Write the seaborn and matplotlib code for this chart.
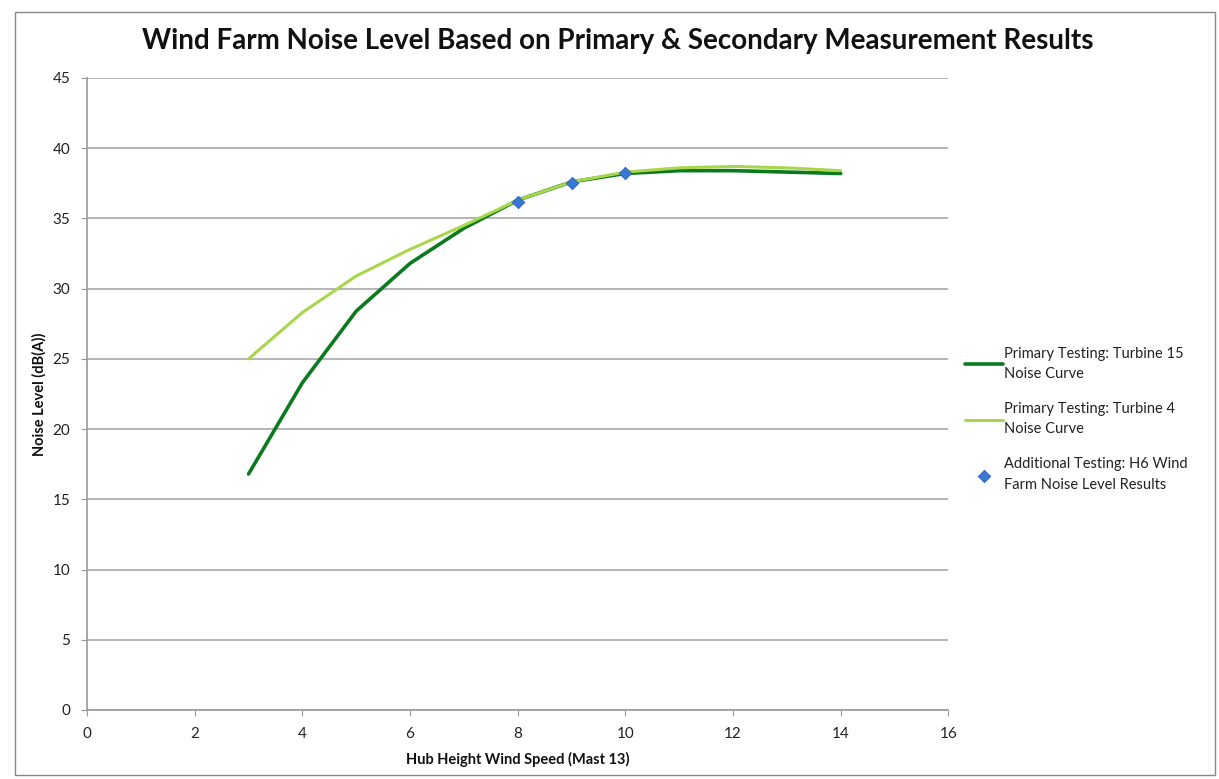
import matplotlib
matplotlib.use("Agg")
import matplotlib.pyplot as plt
import seaborn as sns
import pandas as pd
from matplotlib.patches import Rectangle

# Data
wind_speed = [3, 4, 5, 6, 7, 8, 9, 10, 11, 12, 13, 14]
turbine15 = [16.8, 23.3, 28.4, 31.8, 34.3, 36.3, 37.6, 38.2, 38.4, 38.4, 38.3, 38.2]
turbine4 = [25.0, 28.3, 30.9, 32.8, 34.5, 36.3, 37.6, 38.3, 38.6, 38.7, 38.6, 38.4]
h6_speed = [8, 9, 10]
h6_level = [36.2, 37.5, 38.2]

x_ticks = [0, 2, 4, 6, 8, 10, 12, 14, 16]
y_ticks = [0, 5, 10, 15, 20, 25, 30, 35, 40, 45]

title = "Wind Farm Noise Level Based on Primary & Secondary Measurement Results"
xlabel = "Hub Height Wind Speed (Mast 13)"
ylabel = "Noise Level (dB(A))"
labels = ["Primary Testing: Turbine 15\nNoise Curve",
          "Primary Testing: Turbine 4\nNoise Curve",
          "Additional Testing: H6 Wind\nFarm Noise Level Results"]

sns.set_theme(style="white")
plt.rcParams['font.family'] = ['Lato', 'DejaVu Sans']

fig = plt.figure(figsize=(12.19, 7.79), dpi=100)
ax = fig.add_axes([0.0714, 0.0886, 0.7066, 0.8113])

df15 = pd.DataFrame({"x": wind_speed, "y": turbine15})
df4 = pd.DataFrame({"x": wind_speed, "y": turbine4})
dfh = pd.DataFrame({"x": h6_speed, "y": h6_level})

sns.lineplot(data=df15, x="x", y="y", ax=ax, color="#0b7a1f", linewidth=2.6, label=labels[0], zorder=3)
sns.lineplot(data=df4, x="x", y="y", ax=ax, color="#a8d64c", linewidth=2.2, label=labels[1], zorder=4)
sns.scatterplot(data=dfh, x="x", y="y", ax=ax, color="#3a78d6", marker="D", s=40,
                edgecolor="#2a5fb0", linewidth=0.6, label=labels[2], zorder=5)

ax.set_xlim(0, 16)
ax.set_ylim(0, 45)
ax.set_xticks(x_ticks)
ax.set_yticks(y_ticks)
ax.tick_params(axis="both", labelsize=11, colors="#222222", length=4, width=0.8)
ax.tick_params(axis="x", pad=8, bottom=True, color="#999999")
ax.tick_params(axis="y", pad=8, left=True, color="#999999")
ax.yaxis.grid(True, color="#a8a8a8", linewidth=1.2)
ax.xaxis.grid(False)
for s in ["top", "right"]:
    ax.spines[s].set_visible(False)
for s in ["left", "bottom"]:
    ax.spines[s].set_color("#9a9a9a")
    ax.spines[s].set_linewidth(1.2)

ax.set_xlabel(xlabel, fontsize=10.5, fontweight="bold", labelpad=8, color="#111111")
ax.set_ylabel(ylabel, fontsize=10.5, fontweight="bold", labelpad=4, color="#111111")

fig.text(0.507, 0.948, title, ha="center", va="center", fontsize=20, fontweight="bold", color="#111111")

leg = ax.legend(loc="upper left", bbox_to_anchor=(1.004, 0.595), frameon=False,
                fontsize=10.5, handlelength=2.6, handletextpad=0.05, labelspacing=1.45)
for t in leg.get_texts():
    t.set_color("#222222")
    t.set_linespacing(1.55)

fig.patches.append(Rectangle((0.012, 0.005), 0.985, 0.98, transform=fig.transFigure,
                             fill=False, edgecolor="#888888", linewidth=1.0))

fig.savefig("out.png", dpi=100)
